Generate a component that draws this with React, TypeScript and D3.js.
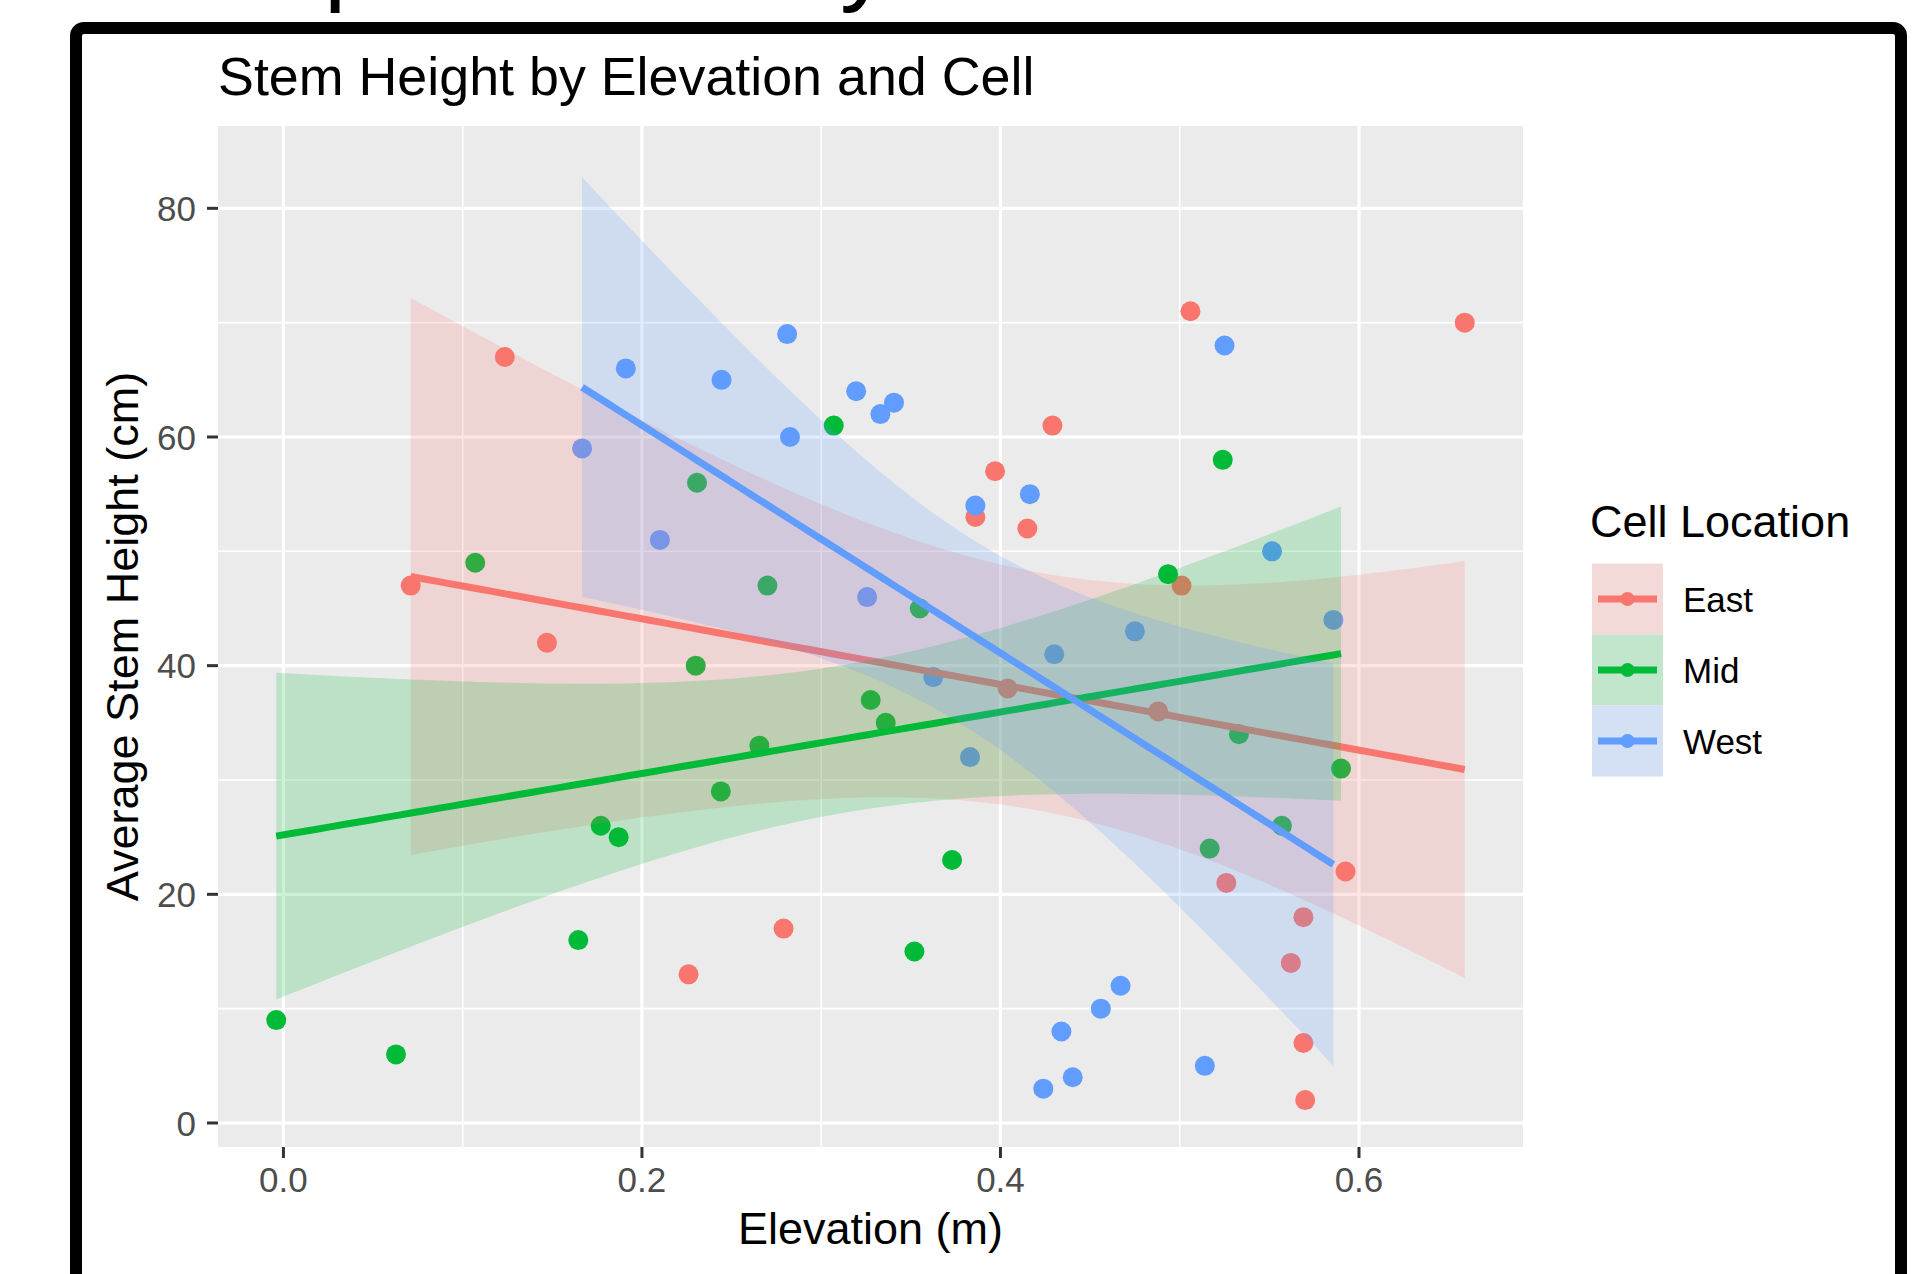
import * as d3 from 'd3'

// groups and ggplot's default hue palette
const cells = ['East', 'Mid', 'West']
const cellColors = ['#F8766D', '#00BA38', '#619CFF']

// East cell
const eastElevation = [0.071, 0.1235, 0.147, 0.226, 0.279, 0.386, 0.397, 0.415, 0.429, 0.404, 0.488, 0.506, 0.501, 0.526, 0.569, 0.562, 0.569, 0.570, 0.5925, 0.659]
const eastHeight = [47, 67, 42, 13, 17, 53, 57, 52, 61, 38, 36, 71, 47, 21, 18, 14, 7, 2, 22, 70]

// Mid cell
const midElevation = [-0.004, 0.0628, 0.107, 0.1645, 0.177, 0.187, 0.2307, 0.230, 0.244, 0.2655, 0.270, 0.307, 0.3276, 0.336, 0.355, 0.352, 0.373, 0.4935, 0.524, 0.5167, 0.533, 0.557, 0.590]
const midHeight = [9, 6, 49, 16, 26, 25, 56, 40, 29, 33, 47, 61, 37, 35, 45, 15, 23, 48, 58, 24, 34, 26, 31]

// West cell
const westElevation = [0.1666, 0.191, 0.210, 0.2444, 0.281, 0.2826, 0.3195, 0.333, 0.3406, 0.3256, 0.3625, 0.383, 0.386, 0.4164, 0.430, 0.475, 0.525, 0.5515, 0.5857, 0.4239, 0.434, 0.4403, 0.456, 0.467, 0.514]
const westHeight = [59, 66, 51, 65, 69, 60, 64, 62, 63, 46, 39, 32, 54, 55, 41, 43, 68, 50, 44, 3, 8, 4, 10, 12, 5]

const xTicks = [0, 0.2, 0.4, 0.6]
const xMinor = [0.1, 0.3, 0.5]
const yTicks = [0, 20, 40, 60, 80]
const yMinor = [10, 30, 50, 70]

// two-sided 95% t quantiles keyed by residual degrees of freedom
const tQuantile95: Record<number, number> = { 18: 2.100922, 21: 2.079614, 23: 2.068658 }

const W = 1918
const H = 1274
const panel = { left: 218, right: 1523, top: 126, bottom: 1147 }
const font = '"Liberation Sans", Arial, Helvetica, sans-serif'

// lm fit with confidence band, like geom_smooth(method = 'lm')
function fitLm(xs: number[], ys: number[]) {
  const n = xs.length
  const mx = d3.mean(xs)!
  const my = d3.mean(ys)!
  let sxx = 0
  let sxy = 0
  xs.forEach((xv, i) => {
    sxx += (xv - mx) ** 2
    sxy += (xv - mx) * (ys[i] - my)
  })
  const slope = sxy / sxx
  const intercept = my - slope * mx
  const sse = d3.sum(xs, (xv, i) => (ys[i] - intercept - slope * xv) ** 2)
  const s = Math.sqrt(sse / (n - 2))
  const t = tQuantile95[n - 2]
  const [lo, hi] = d3.extent(xs) as [number, number]
  return d3.range(80).map(i => {
    const xv = lo + ((hi - lo) * i) / 79
    const fit = intercept + slope * xv
    const se = s * Math.sqrt(1 / n + (xv - mx) ** 2 / sxx)
    return { x: xv, fit, lower: fit - t * se, upper: fit + t * se }
  })
}

const groups = [
  { name: cells[0], color: cellColors[0], xs: eastElevation, ys: eastHeight },
  { name: cells[1], color: cellColors[1], xs: midElevation, ys: midHeight },
  { name: cells[2], color: cellColors[2], xs: westElevation, ys: westHeight },
]

export default function App() {
  const x = d3.scaleLinear().domain([-0.0365, 0.6915]).range([panel.left, panel.right])
  const y = d3.scaleLinear().domain([-2.1, 87.2]).range([panel.bottom, panel.top])

  const fits = groups.map(g => fitLm(g.xs, g.ys))
  const area = d3.area<any>().x(d => x(d.x)).y0(d => y(d.lower)).y1(d => y(d.upper))
  const line = d3.line<any>().x(d => x(d.x)).y(d => y(d.fit))
  const fmt = d3.format('.1f')

  const keyTop = 563.5
  const keyH = 71

  return (
    <div style={{ position: 'absolute', left: 0, top: 0 }}>
      <svg width={W} height={H} style={{ display: 'block', fontFamily: font }}>
        <rect x={0} y={0} width={W} height={H} fill="#fff" />
        <defs>
          <clipPath id="panel-clip">
            <rect x={panel.left} y={panel.top} width={panel.right - panel.left} height={panel.bottom - panel.top} />
          </clipPath>
        </defs>

        {/* cut-off text above the frame: only descenders show */}
        <text x={324} y={-8} fontSize={100} fill="#000">p</text>
        <text x={840} y={-8} fontSize={100} fill="#000">y</text>

        {/* black frame */}
        <rect x={76} y={28} width={1825} height={1400} rx={8} fill="none" stroke="#000" strokeWidth={12} />

        <text x={panel.left} y={95} fontSize={53.8} fill="#000">Stem Height by Elevation and Cell</text>

        <rect x={panel.left} y={panel.top} width={panel.right - panel.left} height={panel.bottom - panel.top} fill="#EBEBEB" />

        {xMinor.map(v => (
          <line key={'xm' + v} x1={x(v)} x2={x(v)} y1={panel.top} y2={panel.bottom} stroke="#fff" strokeWidth={1.6} />
        ))}
        {yMinor.map(v => (
          <line key={'ym' + v} x1={panel.left} x2={panel.right} y1={y(v)} y2={y(v)} stroke="#fff" strokeWidth={1.6} />
        ))}
        {xTicks.map(v => (
          <line key={'xg' + v} x1={x(v)} x2={x(v)} y1={panel.top} y2={panel.bottom} stroke="#fff" strokeWidth={3.2} />
        ))}
        {yTicks.map(v => (
          <line key={'yg' + v} x1={panel.left} x2={panel.right} y1={y(v)} y2={y(v)} stroke="#fff" strokeWidth={3.2} />
        ))}

        {groups.map(g => (
          <g key={'pts' + g.name} fill={g.color}>
            {g.xs.map((xv, i) => (
              <circle key={i} cx={x(xv)} cy={y(g.ys[i])} r={10} />
            ))}
          </g>
        ))}

        <g clipPath="url(#panel-clip)">
          {groups.map((g, gi) => (
            <g key={'fit' + g.name}>
              <path d={area(fits[gi]) || ''} fill={g.color} fillOpacity={0.2} />
              <path d={line(fits[gi]) || ''} fill="none" stroke={g.color} strokeWidth={7} />
            </g>
          ))}
        </g>

        {/* axes */}
        {yTicks.map(v => (
          <g key={'yt' + v}>
            <line x1={panel.left - 11} x2={panel.left} y1={y(v)} y2={y(v)} stroke="#333" strokeWidth={3} />
            <text x={panel.left - 22} y={y(v)} dy="0.36em" textAnchor="end" fontSize={35} fill="#4D4D4D">{v}</text>
          </g>
        ))}
        {xTicks.map(v => (
          <g key={'xt' + v}>
            <line x1={x(v)} x2={x(v)} y1={panel.bottom} y2={panel.bottom + 11} stroke="#333" strokeWidth={3} />
            <text x={x(v)} y={1192} textAnchor="middle" fontSize={35} fill="#4D4D4D">{fmt(v)}</text>
          </g>
        ))}

        <text x={(panel.left + panel.right) / 2} y={1244} textAnchor="middle" fontSize={45} fill="#000">Elevation (m)</text>
        <text
          transform={`translate(138, ${(panel.top + panel.bottom) / 2}) rotate(-90)`}
          textAnchor="middle"
          fontSize={45}
          fill="#000"
        >
          Average Stem Height (cm)
        </text>

        {/* legend */}
        <text x={1590} y={537} fontSize={45} fill="#000">Cell Location</text>
        {groups.map((g, i) => {
          const cy = keyTop + keyH * i + keyH / 2
          return (
            <g key={'lg' + g.name}>
              <rect x={1592} y={keyTop + keyH * i} width={71} height={keyH} fill="#F2F2F2" />
              <rect x={1592} y={keyTop + keyH * i} width={71} height={keyH} fill={g.color} fillOpacity={0.2} />
              <line x1={1598} x2={1657} y1={cy} y2={cy} stroke={g.color} strokeWidth={7} />
              <circle cx={1627.5} cy={cy} r={7} fill={g.color} />
              <text x={1683} y={cy} dy="0.36em" fontSize={35} fill="#000">{g.name}</text>
            </g>
          )
        })}
      </svg>
    </div>
  )
}
